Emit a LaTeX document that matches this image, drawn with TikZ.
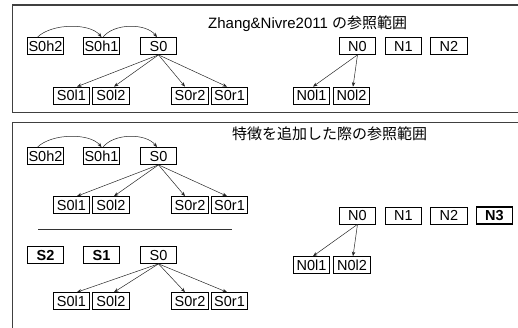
\documentclass[tikz,border=0pt]{standalone}
\usepackage{fontspec}
\setmainfont{Liberation Sans}
\newfontfamily\cjk{Noto Sans CJK JP}
\usetikzlibrary{arrows.meta}
\begin{document}
\begin{tikzpicture}[x=1pt,y=-1pt,
  frame/.style={draw=black!75, line width=1.2pt},
  box/.style={draw, line width=0.7pt, minimum width=36.5pt, minimum height=17pt, inner sep=0pt,
    text height=10.5pt, text depth=0pt, font=\fontsize{14.5}{15}\selectfont},
  boldbox/.style={box, line width=1.4pt, font=\fontsize{14.5}{15}\selectfont\bfseries},
  arr/.style={-{Stealth[length=4.5pt,width=3.5pt]}, line width=0.5pt, draw=black!85},
  title/.style={anchor=base west, inner sep=0pt, font=\fontsize{15}{18}\selectfont}]
\useasboundingbox (0,0) rectangle (518,327);
\clip (0,0) rectangle (518,327);
% frames
\draw[frame] (12.5,5) rectangle (540,112.5);
\draw[frame] (12.5,122.5) rectangle (540,345);
% titles
\node[title] (t1) at (208,28.5) {Zhang\&Nivre2011 {\cjk の参照範囲}};
\node[title] (t2) at (232,139.5) {\cjk 特徴を追加した際の参照範囲};
% ---- frame 1
\node[box] (ah2) at (45.5,46) {S0h2};
\node[box] (ah1) at (101.5,46) {S0h1};
\node[box] (a0) at (158.5,46) {S0};
\node[box] (al1) at (71.5,95.5) {S0l1};
\node[box] (al2) at (111,95.5) {S0l2};
\node[box] (ar2) at (190,95.5) {S0r2};
\node[box] (ar1) at (229.5,95.5) {S0r1};
\node[box] (an0) at (357.5,46) {N0};
\node[box] (an1) at (403.5,46) {N1};
\node[box] (an2) at (449,46) {N2};
\node[box] (anl1) at (311.5,95.5) {N0l1};
\node[box] (anl2) at (351.5,95.5) {N0l2};
\draw[arr] ([xshift=-8pt]ah2.north) .. controls (52,23) and (90,23) .. (ah1.north);
\draw[arr] ([xshift=1.5pt]ah1.north) .. controls (114,23) and (146,23) .. ([xshift=-1.5pt]a0.north);
\draw[arr] (a0.south) -- ([xshift=5.5pt]al1.north);
\draw[arr] (a0.south) -- ([xshift=3pt]al2.north);
\draw[arr] (a0.south) -- ([xshift=-5pt]ar2.north);
\draw[arr] (a0.south) -- ([xshift=-2.5pt]ar1.north);
\draw[arr] (an0.south) -- ([xshift=1.5pt]anl1.north);
\draw[arr] (an0.south) -- ([xshift=1.5pt]anl2.north);
% ---- frame 2, group 1
\node[box] (bh2) at (45.5,156) {S0h2};
\node[box] (bh1) at (101.5,156) {S0h1};
\node[box] (b0) at (158.5,156) {S0};
\node[box] (bl1) at (71.5,205) {S0l1};
\node[box] (bl2) at (111,205) {S0l2};
\node[box] (br2) at (190,205) {S0r2};
\node[box] (br1) at (229.5,205) {S0r1};
\draw[arr] ([xshift=-8pt]bh2.north) .. controls (52,133) and (90,133) .. (bh1.north);
\draw[arr] ([xshift=1.5pt]bh1.north) .. controls (114,133) and (146,133) .. ([xshift=-1.5pt]b0.north);
\draw[arr] (b0.south) -- ([xshift=5.5pt]bl1.north);
\draw[arr] (b0.south) -- ([xshift=3pt]bl2.north);
\draw[arr] (b0.south) -- ([xshift=-5pt]br2.north);
\draw[arr] (b0.south) -- ([xshift=-2.5pt]br1.north);
% separator
\coordinate (sepl) at (38,229);
\coordinate (sepr) at (232,229);
\draw[line width=0.8pt, draw=black!80] (sepl) -- (sepr);
% group 3
\node[boldbox] (c2) at (45.5,255) {S2};
\node[boldbox] (c1) at (101.5,255) {S1};
\node[box] (c0) at (158.5,255) {S0};
\node[box] (cl1) at (71.5,301) {S0l1};
\node[box] (cl2) at (111,301) {S0l2};
\node[box] (cr2) at (190,301) {S0r2};
\node[box] (cr1) at (229.5,301) {S0r1};
\draw[arr] (c0.south) -- ([xshift=5.5pt]cl1.north);
\draw[arr] (c0.south) -- ([xshift=3pt]cl2.north);
\draw[arr] (c0.south) -- ([xshift=-5pt]cr2.north);
\draw[arr] (c0.south) -- ([xshift=-2.5pt]cr1.north);
% N group frame 2
\node[box] (dn0) at (357.5,215.5) {N0};
\node[box] (dn1) at (403.5,215.5) {N1};
\node[box] (dn2) at (449,215.5) {N2};
\node[boldbox] (dn3) at (494.5,215.5) {N3};
\node[box] (dnl1) at (311.5,265) {N0l1};
\node[box] (dnl2) at (352,265) {N0l2};
\draw[arr] (dn0.south) -- ([xshift=1.5pt]dnl1.north);
\draw[arr] (dn0.south) -- ([xshift=1pt]dnl2.north);
\end{tikzpicture}
\end{document}
